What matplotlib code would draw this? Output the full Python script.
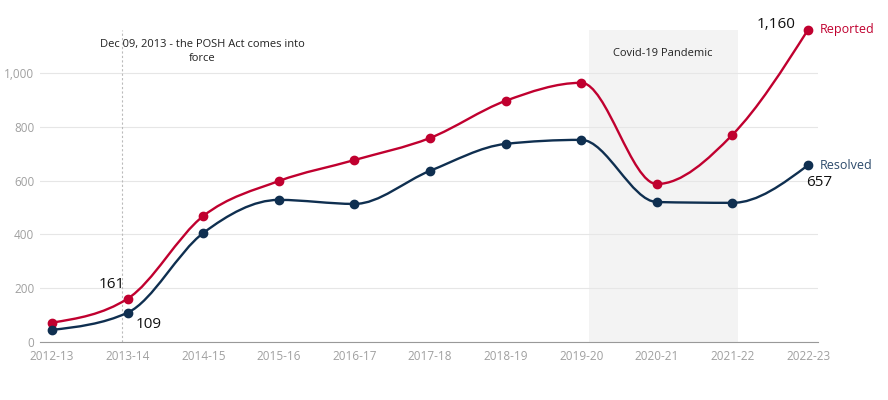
import numpy as np
import matplotlib
matplotlib.use('Agg')
import matplotlib.pyplot as plt
from matplotlib.path import Path
from matplotlib.patches import PathPatch

years = ['2012-13', '2013-14', '2014-15', '2015-16', '2016-17', '2017-18',
         '2018-19', '2019-20', '2020-21', '2021-22', '2022-23']
reported = [72, 161, 468, 598, 676, 758, 896, 963, 587, 770, 1160]
resolved = [45, 109, 405, 528, 513, 636, 736, 751, 520, 517, 657]

red = '#c0002f'
navy = '#0f2f50'

plt.rcParams['font.family'] = ['Open Sans', 'DejaVu Sans']


def monotone_path(x, y):
    """cubic bezier path through the points, d3 monotoneX style"""
    x = np.asarray(x, float)
    y = np.asarray(y, float)
    n = len(x)
    h = np.diff(x)
    s = np.diff(y) / h
    m = np.zeros(n)
    for i in range(1, n - 1):
        if s[i - 1] * s[i] <= 0:
            m[i] = 0
        else:
            p = (s[i - 1] * h[i] + s[i] * h[i - 1]) / (h[i - 1] + h[i])
            m[i] = (np.sign(s[i - 1]) + np.sign(s[i])) * min(abs(s[i - 1]), abs(s[i]), 0.5 * abs(p))
    m[0] = (3 * s[0] - m[1]) / 2 if s[0] * ((3 * s[0] - m[1]) / 2) > 0 else 0
    m[-1] = (3 * s[-1] - m[-2]) / 2 if s[-1] * ((3 * s[-1] - m[-2]) / 2) > 0 else 0
    verts = [(x[0], y[0])]
    codes = [Path.MOVETO]
    for i in range(n - 1):
        d = h[i] / 3
        verts += [(x[i] + d, y[i] + d * m[i]), (x[i + 1] - d, y[i + 1] - d * m[i + 1]), (x[i + 1], y[i + 1])]
        codes += [Path.CURVE4] * 3
    return Path(verts, codes)


fig = plt.figure(figsize=(8.88, 4), dpi=100)
ax = fig.add_axes([0.045, 0.145, 0.876, 0.8075])
xs = np.arange(len(years))

ax.axvspan(7.1, 9.07, ymax=0.966, color='#f3f3f3', zorder=0, lw=0)
ax.axvline(0.93, ymin=0, ymax=0.966, color='#bbbbbb', lw=0.8, ls=(0, (2, 2)), zorder=1)

for vals, c in [(reported, red), (resolved, navy)]:
    ax.add_patch(PathPatch(monotone_path(xs, vals), fc='none', ec=c, lw=1.7, zorder=3))
    ax.plot(xs, vals, 'o', color=c, ms=6, zorder=4)

ax.set_xlim(-0.16, 10.13)
ax.set_ylim(0, 1200)
ax.set_yticks([0, 200, 400, 600, 800, 1000])
ax.set_yticklabels(['0', '200', '400', '600', '800', '1,000'])
ax.set_xticks(xs)
ax.set_xticklabels(years)
ax.grid(axis='y', color='#e6e6e6', lw=0.8)
ax.set_axisbelow(True)
for sp in ['top', 'right', 'left']:
    ax.spines[sp].set_visible(False)
ax.spines['bottom'].set_color('#999999')
ax.tick_params(axis='both', length=0, labelsize=8.5, labelcolor='#a0a0a0')
ax.tick_params(axis='x', pad=6)
ax.tick_params(axis='y', pad=4)

ax.text(1.99, 1078, 'Dec 09, 2013 - the POSH Act comes into\nforce', ha='center', va='center',
        fontsize=8, color='#222222', linespacing=1.4)
ax.text(8.08, 1072, 'Covid-19 Pandemic', ha='center', va='center', fontsize=8, color='#222222')

ax.text(0.97, reported[1] + 25, '161', ha='right', va='bottom', fontsize=11, color='#111111')
ax.text(1.1, resolved[1] - 15, '109', ha='left', va='top', fontsize=11, color='#111111')
ax.text(9.84, reported[-1] + 18, '1,160', ha='right', va='center', fontsize=11, color='#111111')
ax.text(9.98, resolved[-1] - 38, '657', ha='left', va='top', fontsize=11, color='#111111')
ax.text(10.15, reported[-1], 'Reported', ha='left', va='center', fontsize=9, color=red, clip_on=False)
ax.text(10.15, resolved[-1], 'Resolved', ha='left', va='center', fontsize=9, color='#2c4a6b', clip_on=False)

fig.savefig('out.png', dpi=100)
